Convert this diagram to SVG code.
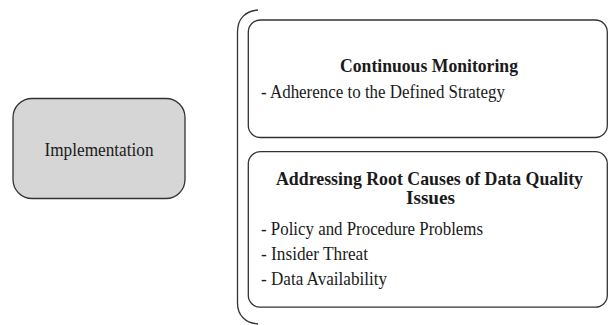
<svg xmlns="http://www.w3.org/2000/svg" width="608" height="325" viewBox="0 0 608 325">
<style>
.box{fill:#ffffff;stroke:#333333;stroke-width:1.3}
.gray{fill:#d6d6d6;stroke:#333333;stroke-width:1.3}
.t{font-family:"Liberation Serif","Times New Roman",serif;font-size:19px;fill:#1a1a1a}
.b{font-weight:bold}
</style>
<rect width="608" height="325" fill="#ffffff"/>
<g id="connectors">
<path d="M258,10 C246,11 237.5,18 237.5,32 V303 C237.5,316 246,323 258,324" fill="none" stroke="#333333" stroke-width="1.3"/>
</g>
<g id="implementation">
<rect class="gray" x="13" y="98.5" width="172" height="100" rx="19"/>
<text class="t" x="99" y="156" text-anchor="middle" textLength="109" lengthAdjust="spacingAndGlyphs">Implementation</text>
</g>
<g id="continuous-monitoring">
<rect class="box" x="248.3" y="20" width="359" height="117.5" rx="12"/>
<text class="t b" x="429" y="72" text-anchor="middle" textLength="178" lengthAdjust="spacingAndGlyphs">Continuous Monitoring</text>
<text class="t" x="261" y="98" textLength="244" lengthAdjust="spacingAndGlyphs">- Adherence to the Defined Strategy</text>
</g>
<g id="root-causes">
<rect class="box" x="248.3" y="151.7" width="359" height="155.5" rx="12"/>
<text class="t b" x="429.5" y="185" text-anchor="middle" textLength="307" lengthAdjust="spacingAndGlyphs">Addressing Root Causes of Data Quality</text>
<text class="t b" x="430.5" y="204" text-anchor="middle" textLength="49" lengthAdjust="spacingAndGlyphs">Issues</text>
<text class="t" x="261" y="235" textLength="222" lengthAdjust="spacingAndGlyphs">- Policy and Procedure Problems</text>
<text class="t" x="261" y="260" textLength="107" lengthAdjust="spacingAndGlyphs">- Insider Threat</text>
<text class="t" x="261" y="285" textLength="126" lengthAdjust="spacingAndGlyphs">- Data Availability</text>
</g>
</svg>
